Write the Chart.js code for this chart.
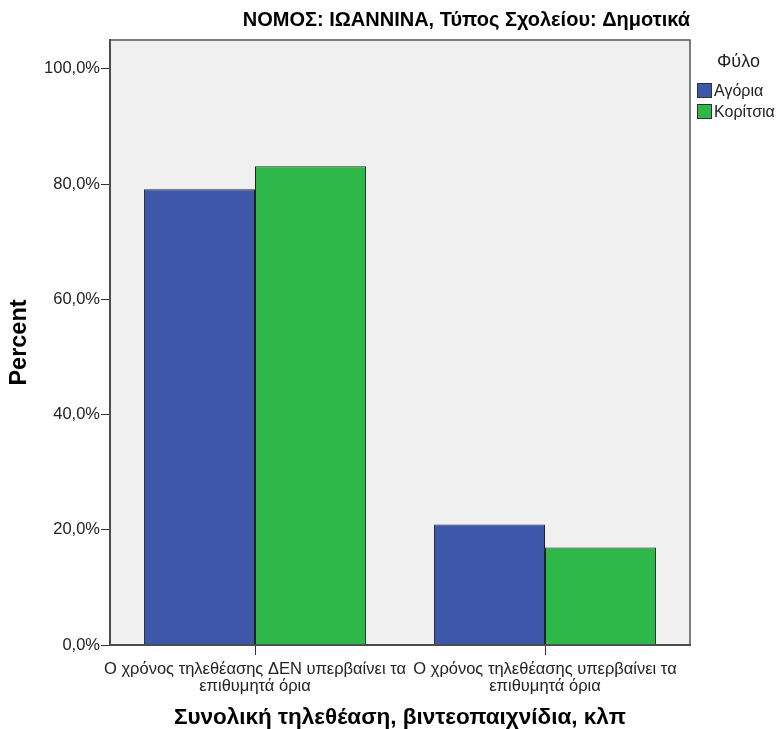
<!DOCTYPE html>
<html>
<head>
<meta charset="utf-8">
<script src="https://cdn.jsdelivr.net/npm/chart.js@4.4.0/dist/chart.umd.min.js"></script>
<style>
  body { margin: 0; background: #fff; }
  #wrap { position: relative; width: 777px; height: 729px; }
  #legend { position: absolute; left: 0; top: 0; font-family: "Liberation Sans", Arial, sans-serif; color: #222; }
  #legend .ttl { position: absolute; left: 717px; top: 50px; font-size: 18px; line-height: 22px; white-space: nowrap; }
  #legend .item { position: absolute; left: 697px; display: flex; align-items: center; font-size: 16px; height: 21px; white-space: nowrap; }
  #legend .box { width: 15px; height: 15px; border: 1px solid #333; box-sizing: border-box; margin-right: 2px; }
</style>
</head>
<body>
<div id="wrap">
  <canvas id="chart" width="777" height="729"></canvas>
  <div id="legend"></div>
</div>
<script>
// Data
const categories = [
    ['Ο χρόνος τηλεθέασης ΔΕΝ υπερβαίνει τα', 'επιθυμητά όρια'],
    ['Ο χρόνος τηλεθέασης υπερβαίνει τα', 'επιθυμητά όρια']
];
const boys = [79.1, 20.9];
const girls = [83.1, 16.9];
const seriesNames = ['Αγόρια', 'Κορίτσια'];
const seriesColors = ['#3d57ab', '#2fb84a'];
const yTicks = [0, 20, 40, 60, 80, 100];

// grey plot background + frame
const framePlugin = {
    id: 'frame',
    beforeDraw(chart) {
        const a = chart.chartArea, c = chart.ctx;
        c.save();
        c.fillStyle = '#f0f0f0';
        c.fillRect(a.left, a.top, a.right - a.left, a.bottom - a.top);
        c.restore();
    },
    afterDraw(chart) {
        const a = chart.chartArea, c = chart.ctx;
        c.save();
        c.strokeStyle = '#555';
        c.lineWidth = 1.5;
        c.strokeRect(a.left, a.top, a.right - a.left, a.bottom - a.top);
        c.restore();
    }
};

const ctx = document.getElementById('chart').getContext('2d');
const chart = new Chart(ctx, {
    type: 'bar',
    data: {
        labels: categories,
        datasets: [
            { label: seriesNames[0], data: boys, backgroundColor: seriesColors[0], borderColor: '#222', borderWidth: 1 },
            { label: seriesNames[1], data: girls, backgroundColor: seriesColors[1], borderColor: '#222', borderWidth: 1 }
        ]
    },
    options: {
        responsive: false,
        animation: false,
        devicePixelRatio: 1,
        layout: { padding: { left: 0, right: 87, top: 0, bottom: 0 } },
        datasets: { bar: { categoryPercentage: 0.766, barPercentage: 1 } },
        plugins: {
            legend: { display: false },
            tooltip: { enabled: false },
            title: {
                display: true,
                text: 'ΝΟΜΟΣ: ΙΩΑΝΝΙΝΑ, Τύπος Σχολείου: Δημοτικά',
                align: 'end',
                fullSize: false,
                color: '#000',
                font: { family: '"Liberation Sans", Arial', size: 20, weight: 'bold', lineHeight: 1.2 },
                padding: { top: 8, bottom: 8 }
            }
        },
        scales: {
            x: {
                offset: true,
                grid: { display: true, drawOnChartArea: false, offset: false, tickLength: 10, color: '#333', tickWidth: 1 },
                border: { display: true, color: '#333', width: 2 },
                ticks: {
                    color: '#222', padding: 6, maxRotation: 0, autoSkip: false,
                    font: { family: '"Liberation Sans", Arial', size: 16.5, lineHeight: 1.03 }
                },
                title: {
                    display: true,
                    text: 'Συνολική τηλεθέαση, βιντεοπαιχνίδια, κλπ',
                    color: '#000',
                    font: { family: '"Liberation Sans", Arial', size: 22.5, weight: 'bold', lineHeight: 1 },
                    padding: { top: 0, bottom: 0 }
                },
                afterFit(scale) { scale.height = 84; }
            },
            y: {
                min: 0,
                max: 105,
                grid: { display: true, drawOnChartArea: false, tickLength: 9, color: '#333', tickWidth: 1 },
                border: { display: true, color: '#333', width: 2 },
                afterBuildTicks(scale) { scale.ticks = yTicks.map(v => ({ value: v })); },
                ticks: {
                    color: '#222', padding: 1,
                    font: { family: '"Liberation Sans", Arial', size: 16.5 },
                    callback: v => v.toFixed(1).replace('.', ',') + '%'
                },
                title: {
                    display: true,
                    text: 'Percent',
                    color: '#000',
                    font: { family: '"Liberation Sans", Arial', size: 23.5, weight: 'bold', lineHeight: 1.2 },
                    padding: { top: 5, bottom: 0 }
                },
                afterFit(scale) { scale.width = 110; }
            }
        }
    },
    plugins: [framePlugin]
});

// Legend
const legend = document.getElementById('legend');
let html = '<div class="ttl">Φύλο</div>';
seriesNames.forEach((name, i) => {
    html += `<div class="item" style="top:${80 + i * 21}px"><span class="box" style="background:${seriesColors[i]}"></span>${name}</div>`;
});
legend.innerHTML = html;
</script>
</body>
</html>
